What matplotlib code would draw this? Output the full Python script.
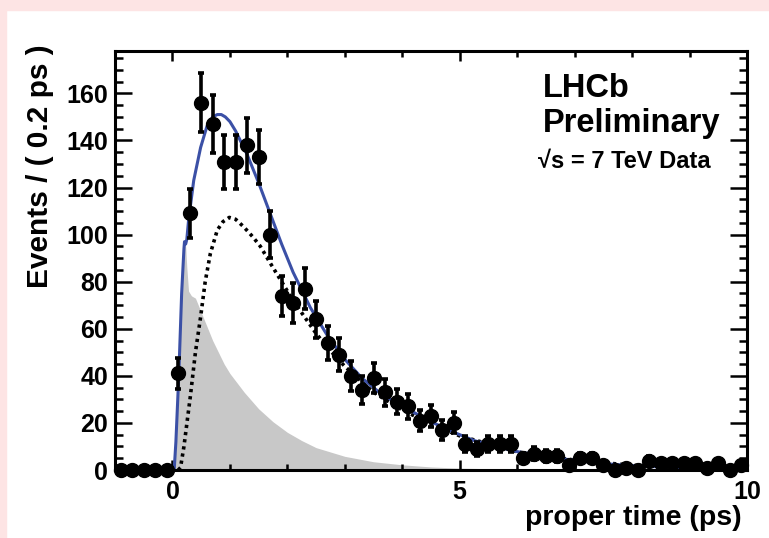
import numpy as np
import matplotlib
matplotlib.use('Agg')
import matplotlib.pyplot as plt
from matplotlib.ticker import MultipleLocator
from matplotlib.patches import Rectangle

plt.rcParams['font.family'] = ['Liberation Sans', 'DejaVu Sans']
plt.rcParams['font.weight'] = 'bold'

# ---- data: events per 0.2 ps bin ----
bin_centres = np.round(np.arange(-0.9, 9.95, 0.2), 1)
counts = [0, 0, 0, 0, 0,
          41, 109, 156, 147, 131, 131, 138, 133, 100, 74,
          71, 77, 64, 54, 49, 40, 34, 39, 33, 29,
          27, 21, 23, 17, 20, 11, 9, 11, 11, 11,
          5, 7, 6, 6, 2, 5, 5, 2, 0, 1,
          0, 4, 3, 3, 3, 3, 1, 3, 0, 2]

# ---- fit curves ----
total_t = [-1.0, 0.03, 0.06, 0.11, 0.16, 0.2, 0.21, 0.23, 0.25, 0.28, 0.37, 0.49,
           0.6, 0.7, 0.78, 0.85, 0.92, 1.0, 1.1, 1.3, 1.5, 1.7, 1.9, 2.1, 2.4,
           2.7, 3.0, 3.3, 3.6, 3.9, 4.2, 4.5, 4.9, 5.25, 6.0, 6.7, 7.46, 8.15,
           9.0, 10.0]
total_y = [0, 0, 12, 40, 75, 94, 97, 96, 98, 106, 123, 137,
           146, 150, 151, 151, 150, 148, 144, 134, 122, 109, 96, 84, 69,
           57, 47, 39, 33, 28.5, 24.5, 20.5, 16, 12.5, 7.8, 5, 2.8, 1.6,
           1, 0.6]

signal_t = [0.1, 0.14, 0.2, 0.31, 0.4, 0.49, 0.57, 0.66, 0.78, 0.88, 0.99, 1.1,
            1.24, 1.4, 1.53, 1.7, 1.9, 2.1, 2.3, 2.5, 2.7, 3.0, 3.5, 4.0, 4.5,
            5.0, 6.0, 7.0, 8.0, 9.0, 10.0]
signal_y = [0, 1, 10, 31, 50, 65, 80, 92, 101.9, 105.5, 107.3, 106.5,
            103.3, 99, 95, 88, 80, 72, 65, 58, 52, 44, 33, 25.5, 19.5,
            14.5, 7.7, 4.2, 2, 1.1, 0.6]

bkg_t = [-1.0, 0.03, 0.07, 0.11, 0.15, 0.19, 0.21, 0.23, 0.25, 0.28, 0.33, 0.4,
         0.45, 0.5, 0.6, 0.7, 0.8, 0.9, 1.0, 1.25, 1.5, 1.75, 2.0, 2.25, 2.5,
         3.0, 3.5, 4.0, 4.5, 5.0, 6.0, 7.0, 10.0]
bkg_y = [0, 0, 12, 40, 72, 93, 97, 95, 86, 76, 74, 73,
         70, 67, 61, 55, 50, 45, 41, 33, 26, 20.5, 16, 12.5, 9.5,
         5.8, 3.5, 2.2, 1.3, 0.8, 0.3, 0.1, 0]

# ---- figure ----
fig = plt.figure(figsize=(7.69, 5.38), dpi=100)
fig.patches.append(Rectangle((0, 1 - 10 / 538), 1, 10 / 538, transform=fig.transFigure,
                             color='#fde4e4', zorder=-10))
fig.patches.append(Rectangle((0, 0), 6 / 769, 1, transform=fig.transFigure,
                             color='#fde4e4', zorder=-10))

ax = fig.add_axes([115 / 769, 1 - 470 / 538, 632 / 769, 419 / 538])

ax.fill_between(bkg_t, bkg_y, 0, color='#c8c8c8', lw=0, zorder=1)
ax.plot(total_t, total_y, color='#3b50a6', lw=2.2, zorder=3)
ax.plot(signal_t, signal_y, color='black', lw=2.6, linestyle=(0, (0.9, 1.1)), zorder=2)

counts = np.array(counts, dtype=float)
errs = np.sqrt(counts)
eb = ax.errorbar(bin_centres, counts, yerr=errs, fmt='o', color='black', ms=10,
                 elinewidth=2.6, capsize=2, capthick=2.6, zorder=5)
for art in eb.get_children():
    art.set_clip_on(False)

ax.set_xlim(-1, 10)
ax.set_ylim(0, 178)

ax.xaxis.set_major_locator(MultipleLocator(5))
ax.xaxis.set_minor_locator(MultipleLocator(1))
ax.yaxis.set_major_locator(MultipleLocator(20))
ax.yaxis.set_minor_locator(MultipleLocator(5))
ax.tick_params(which='both', direction='in', top=True, right=True, width=1.8,
               labelsize=18, colors='black')
ax.tick_params(axis='x', which='major', length=7.5, pad=7)
ax.tick_params(axis='x', which='minor', length=4)
ax.tick_params(axis='y', which='major', length=12.5, pad=5)
ax.tick_params(axis='y', which='minor', length=6)
for sp in ax.spines.values():
    sp.set_linewidth(2.2)
    sp.set_zorder(4)

fig.text(742 / 769, 1 - 525 / 538, 'proper time (ps)', ha='right', va='baseline',
         fontsize=20.5, fontweight='bold')
fig.text(40 / 769, 1 - 44 / 538, 'Events / ( 0.2 ps )', rotation=90, ha='center',
         va='top', fontsize=21.5, fontweight='bold')

fig.text(543 / 769, 1 - 96.7 / 538, 'LHCb', ha='left', va='baseline',
         fontsize=23.5, fontweight='bold')
fig.text(543 / 769, 1 - 131.7 / 538, 'Preliminary', ha='left', va='baseline',
         fontsize=23.5, fontweight='bold')
fig.text(538 / 769, 1 - 168.3 / 538, '\u221as = 7 TeV Data', ha='left', va='baseline',
         fontsize=17, fontweight='bold')

fig.savefig('out.png', dpi=100)
